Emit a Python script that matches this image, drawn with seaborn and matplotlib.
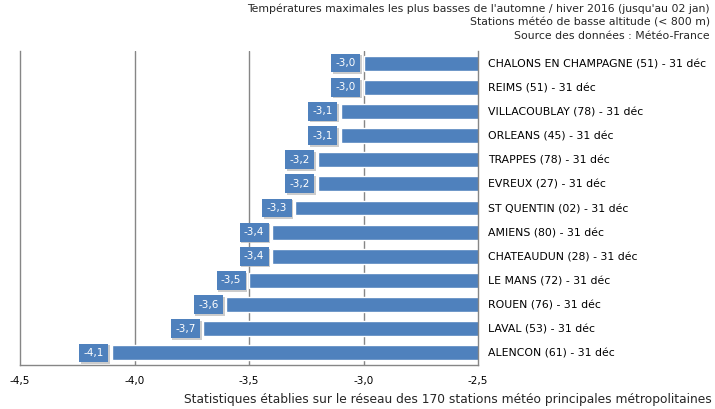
import matplotlib
matplotlib.use("Agg")
import matplotlib.pyplot as plt
import matplotlib.patheffects as pe
import seaborn as sns
import pandas as pd

# Data
stations = [
    "CHALONS EN CHAMPAGNE (51) - 31 déc",
    "REIMS (51) - 31 déc",
    "VILLACOUBLAY (78) - 31 déc",
    "ORLEANS (45) - 31 déc",
    "TRAPPES (78) - 31 déc",
    "EVREUX (27) - 31 déc",
    "ST QUENTIN (02) - 31 déc",
    "AMIENS (80) - 31 déc",
    "CHATEAUDUN (28) - 31 déc",
    "LE MANS (72) - 31 déc",
    "ROUEN (76) - 31 déc",
    "LAVAL (53) - 31 déc",
    "ALENCON (61) - 31 déc",
]
tmax = [-3.0, -3.0, -3.1, -3.1, -3.2, -3.2, -3.3, -3.4, -3.4, -3.5, -3.6, -3.7, -4.1]
xticks = [-4.5, -4.0, -3.5, -3.0, -2.5]

title_lines = [
    "Températures maximales les plus basses de l'automne / hiver 2016 (jusqu'au 02 jan)",
    "Stations météo de basse altitude (< 800 m)",
    "Source des données : Météo-France",
]
footnote = "Statistiques établies sur le réseau des 170 stations météo principales métropolitaines"

df = pd.DataFrame({"station": stations, "tmax": tmax})

sns.set_style("white")
plt.rcParams["font.family"] = ["DejaVu Sans"]
plt.rcParams["font.size"] = 7.5

blue = "#4F81BD"
grey = "#868686"

fig = plt.figure(figsize=(7.15, 4.09), dpi=100)
ax = fig.add_axes([20 / 715, 1 - 365 / 409, (478 - 20) / 715, (365 - 51) / 409])

# bars drawn from 0 and clipped at -2.5, like the original
sns.barplot(data=df, x="tmax", y="station", color=blue, saturation=1,
            width=0.62, orient="h", ax=ax)

ax.set_xlim(-4.5, -2.5)
ax.set_xticks(xticks)
ax.set_xticklabels([f"{v:.1f}".replace(".", ",") for v in xticks])
ax.set_xlabel("")
ax.set_ylabel("")

for x in [-4.0, -3.5, -3.0]:
    ax.axvline(x, color=grey, lw=1, zorder=0)

ax.yaxis.tick_right()
ax.tick_params(axis="y", length=0, pad=7, labelsize=7.8, colors="black")
ax.tick_params(axis="x", length=0, pad=8, labelsize=7.5, colors="black")

for side in ["left", "bottom", "right"]:
    ax.spines[side].set_visible(True)
    ax.spines[side].set_color(grey)
    ax.spines[side].set_linewidth(1)
ax.spines["top"].set_visible(False)

# value labels in blue boxes with a light shadow
for i, v in enumerate(tmax):
    lab = f"{v:.1f}".replace(".", ",")
    t = ax.annotate(lab, xy=(v, i), xytext=(-5.5, 0), textcoords="offset points",
                    ha="right", va="center", color="white", fontsize=7.5,
                    bbox=dict(boxstyle="square,pad=0.42", fc=blue, ec="none"),
                    annotation_clip=False, zorder=4)
    t.get_bbox_patch().set_path_effects([
        pe.SimplePatchShadow(offset=(1.2, -1.2), shadow_rgbFace="#c0c0c0", alpha=0.8),
        pe.Normal(),
    ])

for k, line in enumerate(title_lines):
    fig.text(710 / 715, 1 - (9 + 13.5 * k) / 409, line, ha="right", va="center",
             fontsize=7.8)
fig.text(712 / 715, 1 - 400 / 409, footnote, ha="right", va="center", fontsize=8.8)

fig.savefig("out.png", dpi=100)
